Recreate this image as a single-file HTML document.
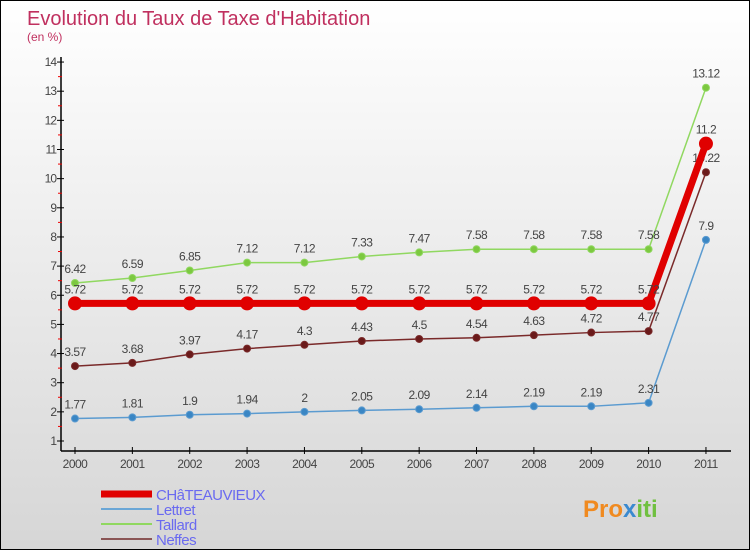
<!DOCTYPE html>
<html><head><meta charset="utf-8"><style>
body{margin:0}
#c{width:748px;height:548px;border:1px solid #000;background:linear-gradient(#fff,#d6d6d6);position:relative;overflow:hidden;font-family:"Liberation Sans",sans-serif}
</style></head><body>
<div id="c">
<svg id="s" width="748" height="548" style="position:absolute;left:0;top:0">
<text x="26" y="24" font-size="20" fill="#c0305f">Evolution du Taux de Taxe d'Habitation</text>
<text x="26" y="40" font-size="12" fill="#c0305f">(en %)</text>
</svg>
</div>
<script>
const years=["2000","2001","2002","2003","2004","2005","2006","2007","2008","2009","2010","2011"];
const chateau=[5.72,5.72,5.72,5.72,5.72,5.72,5.72,5.72,5.72,5.72,5.72,11.2];
const lettret=[1.77,1.81,1.9,1.94,2,2.05,2.09,2.14,2.19,2.19,2.31,7.9];
const tallard=[6.42,6.59,6.85,7.12,7.12,7.33,7.47,7.58,7.58,7.58,7.58,13.12];
const neffes=[3.57,3.68,3.97,4.17,4.3,4.43,4.5,4.54,4.63,4.72,4.77,10.22];
const yTicks=[1,2,3,4,5,6,7,8,9,10,11,12,13,14];
const NS="http://www.w3.org/2000/svg",s=document.getElementById('s');
const X=i=>74+i*57.36, Y=v=>440-(v-1)*29.15;
function el(t,a,p){const e=document.createElementNS(NS,t);for(const k in a)e.setAttribute(k,a[k]);(p||s).appendChild(e);return e;}
let ax=el('line',{x1:60,y1:56,x2:60,y2:450,stroke:'#000','stroke-width':1.5});

let bx=el('line',{x1:60,y1:450,x2:730,y2:450,stroke:'#000','stroke-width':1.5});

yTicks.forEach(v=>{el('line',{x1:56,y1:Y(v),x2:63,y2:Y(v),stroke:'#000'});
 if(v<14)el('line',{x1:57,y1:Y(v+0.5),x2:61,y2:Y(v+0.5),stroke:'#e00'});
 const t=el('text',{x:55,y:Y(v)+4,'font-size':12,fill:'#444','text-anchor':'end','letter-spacing':'-1'});t.textContent=v;
 });
years.forEach((y,i)=>{el('line',{x1:X(i),y1:446,x2:X(i),y2:453,stroke:'#000'});
 const t=el('text',{x:X(i),y:467,'font-size':12,fill:'#444','text-anchor':'middle','letter-spacing':'-0.5'});t.textContent=y;
 });
function series(d,col,dot,w,r,name){
 const g=el('g',{});
 el('polyline',{points:d.map((v,i)=>X(i)+','+Y(v)).join(' '),fill:'none',stroke:col,'stroke-width':w},g);
 d.forEach((v,i)=>{const c=el('circle',{cx:X(i),cy:Y(v),r:r,fill:dot,stroke:col},g);
  
  const t=el('text',{x:X(i),y:Y(v)-10,'font-size':12,fill:'#444','text-anchor':'middle','letter-spacing':'-0.5'},g);t.textContent=v;});
}
series(lettret,'#5b9bd0','#3a86c4',1.5,3.5,'lettret');
series(tallard,'#90d860','#7cc840',1.5,3.5,'tallard');
series(neffes,'#7a2a2a','#6a1a1a',1.5,3.5,'neffes');
series(chateau,'#e00000','#e00000',7,6.5,'chateauvieux');
const legend=[["CHâTEAUVIEUX","#e00000",7],["Lettret","#6aa6d6",2],["Tallard","#90d860",2],["Neffes","#8a5555",2]];
legend.forEach((l,i)=>{const y=493+i*15;const g=el('g',{});
 
 el('line',{x1:100,y1:y,x2:151,y2:y,stroke:l[1],'stroke-width':l[2]},g);
 const t=el('text',{x:155,y:y+6,'font-size':15,fill:'#6a6af0','letter-spacing':'-0.5'},g);t.textContent=l[0];});
const p=el('text',{x:582,y:516,'font-size':24,'font-weight':'bold',fill:'#f08a20'});p.textContent='Pro';
const p2=el('tspan',{fill:'#3a8ad0'},p);p2.textContent='x';
const p3=el('tspan',{fill:'#70c040'},p);p3.textContent='iti';

</script>
</body></html>
